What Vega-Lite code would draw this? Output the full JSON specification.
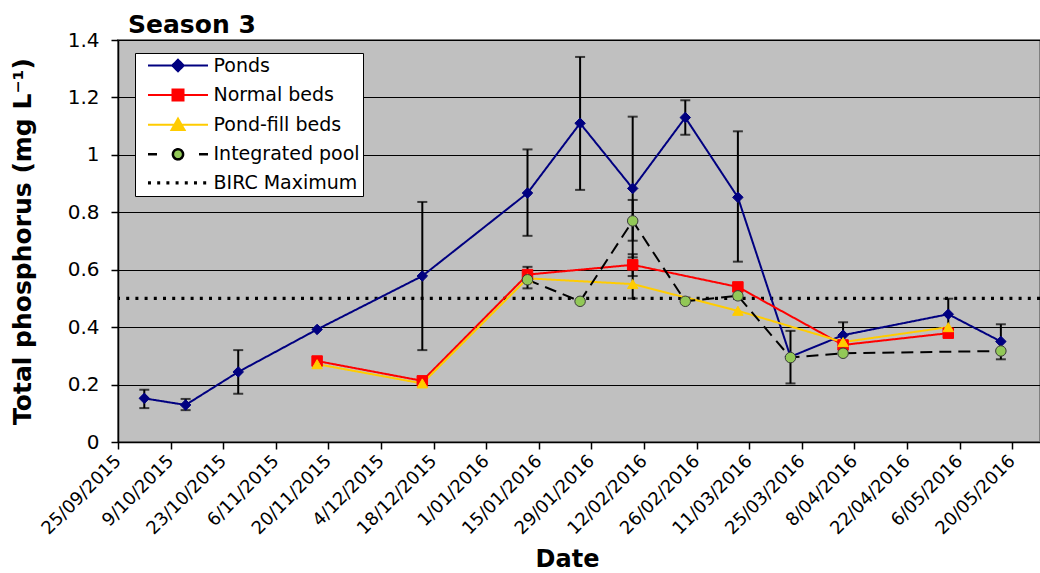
{
  "$schema": "https://vega.github.io/schema/vega-lite/v6.json",
  "width": 922,
  "height": 402,
  "autosize": {"type": "none"},
  "padding": {"left": 118, "top": 40, "right": 0, "bottom": 131},
  "background": "white",
  "title": {"text": "Season 3", "anchor": "start", "frame": "group", "dx": 10, "offset": -8, "font": "DejaVu Sans", "fontSize": 25, "fontWeight": "bold", "color": "black"},
  "config": {
    "view": {"fill": "#C0C0C0", "stroke": "#808080", "strokeWidth": 2},
    "axis": {"labelFont": "DejaVu Sans", "titleFont": "DejaVu Sans", "labelColor": "black", "titleColor": "black", "domainColor": "black", "tickColor": "black", "gridColor": "black", "gridOpacity": 1, "gridWidth": 1, "tickSize": 7, "domainWidth": 1.5, "tickWidth": 1.5}
  },
  "datasets": {
    "obs": [
      {"date": "2015-10-02", "series": "Ponds", "value": 0.152},
      {"date": "2015-10-13", "series": "Ponds", "value": 0.129},
      {"date": "2015-10-27", "series": "Ponds", "value": 0.244},
      {"date": "2015-11-17", "series": "Ponds", "value": 0.392},
      {"date": "2015-12-15", "series": "Ponds", "value": 0.578},
      {"date": "2016-01-12", "series": "Ponds", "value": 0.867},
      {"date": "2016-01-26", "series": "Ponds", "value": 1.11},
      {"date": "2016-02-09", "series": "Ponds", "value": 0.883},
      {"date": "2016-02-23", "series": "Ponds", "value": 1.13},
      {"date": "2016-03-08", "series": "Ponds", "value": 0.852},
      {"date": "2016-03-22", "series": "Ponds", "value": 0.297},
      {"date": "2016-04-05", "series": "Ponds", "value": 0.372},
      {"date": "2016-05-03", "series": "Ponds", "value": 0.445},
      {"date": "2016-05-17", "series": "Ponds", "value": 0.35},
      {"date": "2015-11-17", "series": "Normal beds", "value": 0.282},
      {"date": "2015-12-15", "series": "Normal beds", "value": 0.213},
      {"date": "2016-01-12", "series": "Normal beds", "value": 0.583},
      {"date": "2016-02-09", "series": "Normal beds", "value": 0.617},
      {"date": "2016-03-08", "series": "Normal beds", "value": 0.54},
      {"date": "2016-04-05", "series": "Normal beds", "value": 0.338},
      {"date": "2016-05-03", "series": "Normal beds", "value": 0.379},
      {"date": "2015-11-17", "series": "Pond-fill beds", "value": 0.271},
      {"date": "2015-12-15", "series": "Pond-fill beds", "value": 0.204},
      {"date": "2016-01-12", "series": "Pond-fill beds", "value": 0.57},
      {"date": "2016-02-09", "series": "Pond-fill beds", "value": 0.55},
      {"date": "2016-03-08", "series": "Pond-fill beds", "value": 0.457},
      {"date": "2016-04-05", "series": "Pond-fill beds", "value": 0.348},
      {"date": "2016-05-03", "series": "Pond-fill beds", "value": 0.4},
      {"date": "2016-01-12", "series": "Integrated pool", "value": 0.565},
      {"date": "2016-01-26", "series": "Integrated pool", "value": 0.49},
      {"date": "2016-02-09", "series": "Integrated pool", "value": 0.77},
      {"date": "2016-02-23", "series": "Integrated pool", "value": 0.49},
      {"date": "2016-03-08", "series": "Integrated pool", "value": 0.509},
      {"date": "2016-03-22", "series": "Integrated pool", "value": 0.294},
      {"date": "2016-04-05", "series": "Integrated pool", "value": 0.309},
      {"date": "2016-05-17", "series": "Integrated pool", "value": 0.317}
    ],
    "err": [
      {"date": "2015-10-02", "series": "Ponds", "lo": 0.118, "hi": 0.182},
      {"date": "2015-10-13", "series": "Ponds", "lo": 0.111, "hi": 0.15},
      {"date": "2015-10-27", "series": "Ponds", "lo": 0.168, "hi": 0.32},
      {"date": "2015-12-15", "series": "Ponds", "lo": 0.32, "hi": 0.836},
      {"date": "2016-01-12", "series": "Ponds", "lo": 0.718, "hi": 1.019},
      {"date": "2016-01-26", "series": "Ponds", "lo": 0.878, "hi": 1.341},
      {"date": "2016-02-09", "series": "Ponds", "lo": 0.643, "hi": 1.133},
      {"date": "2016-02-23", "series": "Ponds", "lo": 1.07, "hi": 1.19},
      {"date": "2016-03-08", "series": "Ponds", "lo": 0.628, "hi": 1.082},
      {"date": "2016-03-22", "series": "Ponds", "lo": 0.204, "hi": 0.387},
      {"date": "2016-04-05", "series": "Ponds", "lo": 0.33, "hi": 0.417},
      {"date": "2016-05-03", "series": "Ponds", "lo": 0.39, "hi": 0.499},
      {"date": "2016-05-17", "series": "Ponds", "lo": 0.288, "hi": 0.41},
      {"date": "2016-01-12", "series": "Normal beds", "lo": 0.535, "hi": 0.61},
      {"date": "2016-02-09", "series": "Normal beds", "lo": 0.578, "hi": 0.654},
      {"date": "2016-02-09", "series": "Pond-fill beds", "lo": 0.5, "hi": 0.6},
      {"date": "2016-02-09", "series": "Integrated pool", "lo": 0.701, "hi": 0.843}
    ],
    "birc": [
      {"series": "BIRC Maximum", "value": 0.5}
    ]
  },
  "layer": [
    {
      "data": {"name": "birc"},
      "mark": {"type": "rule", "strokeDash": [3, 6.2], "strokeWidth": 3.2},
      "encoding": {
        "y": {"field": "value", "type": "quantitative", "scale": {"domain": [0, 1.4]},
          "axis": {"title": "Total phosphorus (mg L⁻¹)", "titleFontSize": 25, "titleFontWeight": "bold", "titlePadding": 32, "labelFontSize": 20, "labelPadding": 12, "values": [0, 0.2, 0.4, 0.6, 0.8, 1, 1.2, 1.4], "format": "~g", "grid": true}},
        "color": {"field": "series", "type": "nominal",
          "scale": {"domain": ["Ponds", "Normal beds", "Pond-fill beds", "Integrated pool", "BIRC Maximum"], "range": ["#000080", "#FF0000", "#FFCC00", "#000000", "#000000"]},
          "legend": {
            "title": null, "orient": "none", "legendX": 17, "legendY": 13,
            "labelFont": "DejaVu Sans", "labelFontSize": 19, "labelColor": "black",
            "labelExpr": "datum.label + '\u00a0\u00a0'",
            "fillColor": "white", "strokeColor": "black", "padding": 3, "rowPadding": 8.6,
            "symbolSize": 841, "symbolOffset": 30.5, "labelOffset": 26,
            "encode": {"symbols": {"update": {
              "shape": {"signal": "datum.value === 'Ponds' ? 'M-2.07,0H2.07M0,-0.4L0.4,0L0,0.4L-0.4,0Z' : datum.value === 'Normal beds' ? 'M-2.07,0H2.07M-0.38,-0.38H0.38V0.38H-0.38Z' : datum.value === 'Pond-fill beds' ? 'M-2.07,0H2.07M0,-0.42L0.45,0.36H-0.45Z' : datum.value === 'Integrated pool' ? 'M-2.07,0H-1.45M1.45,0H2.07M-0.35,0A0.35,0.35,0,1,1,0.35,0A0.35,0.35,0,1,1,-0.35,0Z' : 'M-2.07,0H2.07'"},
              "fill": {"signal": "datum.value === 'Ponds' ? '#000080' : datum.value === 'Normal beds' ? '#FF0000' : datum.value === 'Pond-fill beds' ? '#FFCC00' : datum.value === 'Integrated pool' ? '#92C857' : 'transparent'"},
              "stroke": {"signal": "datum.value === 'Ponds' ? '#000080' : datum.value === 'Normal beds' ? '#FF0000' : datum.value === 'Pond-fill beds' ? '#FFCC00' : '#000000'"},
              "strokeWidth": {"signal": "datum.value === 'BIRC Maximum' ? 3.2 : datum.value === 'Integrated pool' ? 2.5 : 2"},
              "strokeDash": {"signal": "datum.value === 'BIRC Maximum' ? [3, 6.2] : [1, 0]"},
              "size": {"value": 841},
              "opacity": {"value": 1}
            }}}
          }}
      }
    },
    {
      "data": {"name": "obs"},
      "mark": {"type": "line"},
      "encoding": {
        "x": {"field": "date", "type": "temporal",
          "scale": {"type": "utc", "domain": [{"year": 2015, "month": 9, "date": 25, "utc": true}, {"year": 2016, "month": 5, "date": 27, "hours": 10, "utc": true}]},
          "axis": {"title": "Date", "titleFontSize": 24, "titleFontWeight": "bold", "titlePadding": 10, "titleX": 449, "labelFontSize": 18, "labelAngle": -45, "labelBaseline": "middle", "labelAlign": "right", "labelPadding": 9, "labelOverlap": false, "format": "%-d/%m/%Y", "grid": false,
            "values": [
              {"year": 2015, "month": 9, "date": 25, "utc": true},
              {"year": 2015, "month": 10, "date": 9, "utc": true},
              {"year": 2015, "month": 10, "date": 23, "utc": true},
              {"year": 2015, "month": 11, "date": 6, "utc": true},
              {"year": 2015, "month": 11, "date": 20, "utc": true},
              {"year": 2015, "month": 12, "date": 4, "utc": true},
              {"year": 2015, "month": 12, "date": 18, "utc": true},
              {"year": 2016, "month": 1, "date": 1, "utc": true},
              {"year": 2016, "month": 1, "date": 15, "utc": true},
              {"year": 2016, "month": 1, "date": 29, "utc": true},
              {"year": 2016, "month": 2, "date": 12, "utc": true},
              {"year": 2016, "month": 2, "date": 26, "utc": true},
              {"year": 2016, "month": 3, "date": 11, "utc": true},
              {"year": 2016, "month": 3, "date": 25, "utc": true},
              {"year": 2016, "month": 4, "date": 8, "utc": true},
              {"year": 2016, "month": 4, "date": 22, "utc": true},
              {"year": 2016, "month": 5, "date": 6, "utc": true},
              {"year": 2016, "month": 5, "date": 20, "utc": true}
            ]}},
        "y": {"field": "value", "type": "quantitative"},
        "color": {"field": "series", "type": "nominal"},
        "strokeDash": {"field": "series", "type": "nominal", "scale": {"domain": ["Ponds", "Normal beds", "Pond-fill beds", "Integrated pool"], "range": [[1, 0], [1, 0], [1, 0], [12, 7]]}, "legend": null},
        "strokeWidth": {"field": "series", "type": "nominal", "scale": {"domain": ["Ponds", "Normal beds", "Pond-fill beds", "Integrated pool"], "range": [2, 2, 2, 3]}, "legend": null}
      }
    },
    {
      "data": {"name": "err"},
      "mark": {"type": "rule", "color": "black", "strokeWidth": 2},
      "encoding": {
        "x": {"field": "date", "type": "temporal"},
        "y": {"field": "lo", "type": "quantitative"},
        "y2": {"field": "hi"}
      }
    },
    {
      "data": {"name": "err"},
      "mark": {"type": "tick", "orient": "horizontal", "color": "black", "size": 10, "thickness": 2},
      "encoding": {
        "x": {"field": "date", "type": "temporal"},
        "y": {"field": "lo", "type": "quantitative"}
      }
    },
    {
      "data": {"name": "err"},
      "mark": {"type": "tick", "orient": "horizontal", "color": "black", "size": 10, "thickness": 2},
      "encoding": {
        "x": {"field": "date", "type": "temporal"},
        "y": {"field": "hi", "type": "quantitative"}
      }
    },
    {
      "data": {"name": "obs"},
      "mark": {"type": "point", "filled": true, "size": 110, "strokeWidth": 1, "opacity": 1},
      "encoding": {
        "x": {"field": "date", "type": "temporal"},
        "y": {"field": "value", "type": "quantitative"},
        "shape": {"field": "series", "type": "nominal", "scale": {"domain": ["Ponds", "Normal beds", "Pond-fill beds", "Integrated pool"], "range": ["diamond", "square", "triangle-up", "circle"]}, "legend": null},
        "fill": {"field": "series", "type": "nominal", "scale": {"domain": ["Ponds", "Normal beds", "Pond-fill beds", "Integrated pool"], "range": ["#000080", "#FF0000", "#FFCC00", "#92C857"]}, "legend": null},
        "stroke": {"field": "series", "type": "nominal", "scale": {"domain": ["Ponds", "Normal beds", "Pond-fill beds", "Integrated pool"], "range": ["#000080", "#FF0000", "#FFCC00", "#3A3A3A"]}, "legend": null}
      }
    }
  ]
}
